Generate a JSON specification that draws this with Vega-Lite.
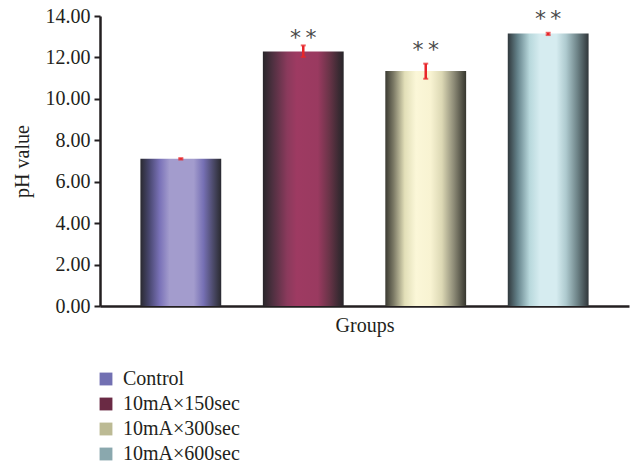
{
  "$schema": "https://vega.github.io/schema/vega-lite/v6.json",
  "width": 529,
  "height": 290,
  "autosize": {"type": "none"},
  "padding": {"left": 100, "top": 16, "right": 4, "bottom": 160},
  "background": "white",
  "config": {
    "font": "Liberation Serif",
    "view": {"stroke": null},
    "axisY": {
      "domainColor": "#231f20", "domainWidth": 2.5,
      "tickColor": "#231f20", "tickWidth": 2, "tickSize": 6,
      "grid": false,
      "labelFont": "Liberation Serif", "labelFontSize": 20, "labelColor": "#231f20", "labelPadding": 4,
      "titleFont": "Liberation Serif", "titleFontSize": 20, "titleFontWeight": "normal", "titleColor": "#231f20",
      "titlePadding": 13
    }
  },
  "data": {
    "values": [
      {"group": "Control", "ph": 7.11, "lo": 7.07, "hi": 7.14, "sig": "", "sy": 7.5},
      {"group": "10mA×150sec", "ph": 12.29, "lo": 12.02, "hi": 12.58, "sig": "*\u2009*", "sy": 13.15},
      {"group": "10mA×300sec", "ph": 11.34, "lo": 10.97, "hi": 11.70, "sig": "*\u2009*", "sy": 12.55},
      {"group": "10mA×600sec", "ph": 13.16, "lo": 13.08, "hi": 13.19, "sig": "*\u2009*", "sy": 14.04}
    ]
  },
  "encoding": {
    "x": {
      "field": "group", "type": "nominal", "sort": null,
      "scale": {"paddingInner": 0.34, "paddingOuter": 0.33},
      "axis": {
        "title": "Groups", "labels": false, "ticks": false,
        "domainColor": "#231f20", "domainWidth": 2.5,
        "titleFont": "Liberation Serif", "titleFontSize": 20, "titleFontWeight": "normal",
        "titleColor": "#231f20", "titlePadding": 9
      }
    }
  },
  "layer": [
    {
      "mark": {"type": "bar"},
      "encoding": {
        "y": {"datum": 0, "type": "quantitative", "title": "pH value", "scale": {"domain": [0, 14]}, "axis": {"format": ".2f", "values": [0, 2, 4, 6, 8, 10, 12, 14]}},
        "color": {
          "field": "group", "type": "nominal", "sort": null,
          "scale": {"range": ["#7270b2", "#6a2a44", "#bcba94", "#8aa8ae"]},
          "legend": {
            "title": null, "orient": "none", "legendX": -4, "legendY": 353,
            "symbolType": "square", "symbolSize": 165, "symbolOpacity": 1,
            "labelFont": "Liberation Serif", "labelFontSize": 20, "labelColor": "#231f20",
            "rowPadding": 5, "labelOffset": 7, "symbolStrokeWidth": 0
          }
        }
      }
    },
    {
      "transform": [{"filter": "datum.group === 'Control'"}],
      "mark": {"type": "bar", "color": {"gradient": "linear", "x1": 0, "x2": 1, "y1": 0, "y2": 0, "stops": [
        {"offset": 0, "color": "#2a2a30"}, {"offset": 0.1, "color": "#45446a"}, {"offset": 0.24, "color": "#7a72b8"},
        {"offset": 0.36, "color": "#a39ccd"}, {"offset": 0.66, "color": "#a39ccd"}, {"offset": 0.78, "color": "#7670b4"},
        {"offset": 0.92, "color": "#45445e"}, {"offset": 1, "color": "#2a2a30"}]}},
      "encoding": {"y": {"field": "ph", "type": "quantitative", "title": "pH value", "axis": {"format": ".2f", "values": [0, 2, 4, 6, 8, 10, 12, 14]}}}
    },
    {
      "transform": [{"filter": "datum.group === '10mA×150sec'"}],
      "mark": {"type": "bar", "color": {"gradient": "linear", "x1": 0, "x2": 1, "y1": 0, "y2": 0, "stops": [
        {"offset": 0, "color": "#28262a"}, {"offset": 0.12, "color": "#4e3040"}, {"offset": 0.3, "color": "#8a3a5c"},
        {"offset": 0.42, "color": "#9e3a62"}, {"offset": 0.68, "color": "#9a3a60"}, {"offset": 0.82, "color": "#6a3448"},
        {"offset": 0.94, "color": "#3a2a32"}, {"offset": 1, "color": "#28262a"}]}},
      "encoding": {"y": {"field": "ph", "type": "quantitative", "title": "pH value", "axis": {"format": ".2f", "values": [0, 2, 4, 6, 8, 10, 12, 14]}}}
    },
    {
      "transform": [{"filter": "datum.group === '10mA×300sec'"}],
      "mark": {"type": "bar", "color": {"gradient": "linear", "x1": 0, "x2": 1, "y1": 0, "y2": 0, "stops": [
        {"offset": 0, "color": "#3a3a32"}, {"offset": 0.1, "color": "#7a7864"}, {"offset": 0.24, "color": "#e2dfb8"},
        {"offset": 0.38, "color": "#fbf7d8"}, {"offset": 0.56, "color": "#f8f3d2"}, {"offset": 0.7, "color": "#dcd8b4"},
        {"offset": 0.85, "color": "#8c8a76"}, {"offset": 1, "color": "#36362e"}]}},
      "encoding": {"y": {"field": "ph", "type": "quantitative", "title": "pH value", "axis": {"format": ".2f", "values": [0, 2, 4, 6, 8, 10, 12, 14]}}}
    },
    {
      "transform": [{"filter": "datum.group === '10mA×600sec'"}],
      "mark": {"type": "bar", "color": {"gradient": "linear", "x1": 0, "x2": 1, "y1": 0, "y2": 0, "stops": [
        {"offset": 0, "color": "#30383c"}, {"offset": 0.12, "color": "#64828a"}, {"offset": 0.27, "color": "#b8d8dc"},
        {"offset": 0.4, "color": "#d6ecf0"}, {"offset": 0.6, "color": "#d6ecf0"}, {"offset": 0.72, "color": "#aecacf"},
        {"offset": 0.86, "color": "#6e8488"}, {"offset": 1, "color": "#30363a"}]}},
      "encoding": {"y": {"field": "ph", "type": "quantitative", "title": "pH value", "axis": {"format": ".2f", "values": [0, 2, 4, 6, 8, 10, 12, 14]}}}
    },
    {
      "mark": {"type": "rule", "color": "#e8262a", "strokeWidth": 2.5},
      "encoding": {
        "y": {"field": "lo", "type": "quantitative", "title": "pH value", "axis": {"format": ".2f", "values": [0, 2, 4, 6, 8, 10, 12, 14]}},
        "y2": {"field": "hi"}
      }
    },
    {
      "mark": {"type": "tick", "color": "#e8262a", "thickness": 2, "size": 5},
      "encoding": {"y": {"field": "lo", "type": "quantitative", "title": "pH value", "axis": {"format": ".2f", "values": [0, 2, 4, 6, 8, 10, 12, 14]}}}
    },
    {
      "mark": {"type": "tick", "color": "#e8262a", "thickness": 2, "size": 5},
      "encoding": {"y": {"field": "hi", "type": "quantitative", "title": "pH value", "axis": {"format": ".2f", "values": [0, 2, 4, 6, 8, 10, 12, 14]}}}
    },
    {
      "mark": {"type": "text", "fontSize": 22, "color": "#4a4a4a", "baseline": "middle", "dy": 4, "font": "DejaVu Sans"},
      "encoding": {
        "y": {"field": "sy", "type": "quantitative", "title": "pH value", "axis": {"format": ".2f", "values": [0, 2, 4, 6, 8, 10, 12, 14]}},
        "text": {"field": "sig", "type": "nominal"}
      }
    }
  ],
  "resolve": {"scale": {"y": "shared"}}
}
